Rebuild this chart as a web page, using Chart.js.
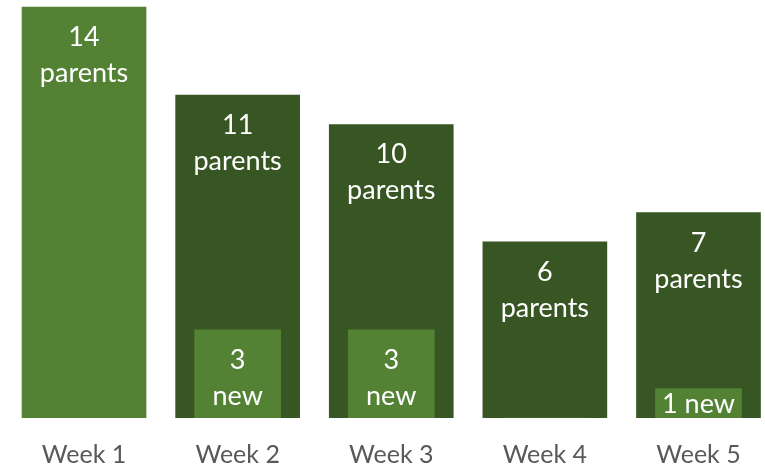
<!DOCTYPE html>
<html>
<head>
<meta charset="utf-8">
<script src="https://cdn.jsdelivr.net/npm/chart.js@4/dist/chart.umd.min.js"></script>
<style>
  html, body { margin: 0; padding: 0; background: #fff; }
</style>
</head>
<body>
<canvas id="myChart" width="765" height="470"></canvas>
<script>
const weeks = ['Week 1', 'Week 2', 'Week 3', 'Week 4', 'Week 5'];
const parents = [14, 11, 10, 6, 7];
const newParents = [0, 3, 3, 0, 1];

const light = '#548235';
const dark = '#375623';

// draws the white "N parents" / "N new" text inside each bar
const barText = {
  id: 'barText',
  afterDatasetsDraw(chart) {
    const c = chart.ctx;
    c.save();
    c.fillStyle = '#ffffff';
    c.textAlign = 'center';
    c.font = '27px Lato';
    chart.data.datasets.forEach((ds, di) => {
      const meta = chart.getDatasetMeta(di);
      meta.data.forEach((bar, i) => {
        const v = ds.data[i].y;
        if (!v) return;
        const h = bar.base - bar.y;
        if (h < 60) {
          c.textBaseline = 'middle';
          c.fillText(v + ' ' + ds.word, bar.x, (bar.y + bar.base) / 2 + 1);
        } else {
          c.textBaseline = 'alphabetic';
          c.fillText(String(v), bar.x, bar.y + 39);
          c.fillText(ds.word, bar.x, bar.y + 75);
        }
      });
    });
    c.restore();
  }
};

new Chart(document.getElementById('myChart'), {
  type: 'bar',
  data: {
    datasets: [{
      label: 'new',
      word: 'new',
      data: newParents.map((v, i) => ({ x: i, y: v })),
      backgroundColor: light,
      barThickness: 86,
      grouped: false,
      order: 0
    }, {
      label: 'parents',
      word: 'parents',
      data: parents.map((v, i) => ({ x: i, y: v })),
      backgroundColor: parents.map((v, i) => i === 0 ? light : dark),
      barThickness: 124,
      grouped: false,
      order: 1
    }]
  },
  plugins: [barText],
  options: {
    responsive: false,
    animation: false,
    // negative bottom padding pushes the week labels lower
    layout: { padding: { top: 0, left: 0, right: 0, bottom: -22 } },
    plugins: {
      legend: { display: false },
      tooltip: { enabled: false }
    },
    scales: {
      x: {
        type: 'linear',
        offset: false,
        min: -0.547,
        max: 4.433,
        grid: { display: false, drawTicks: false },
        border: { display: false },
        afterBuildTicks: (scale) => {
          scale.ticks = weeks.map((w, i) => ({ value: i }));
        },
        ticks: {
          padding: 22,
          maxRotation: 0,
          color: '#595959',
          font: { family: 'Lato', size: 25 },
          callback: (v) => weeks[v]
        }
      },
      y: {
        display: false,
        min: 0,
        max: 14.24
      }
    }
  }
});
</script>
</body>
</html>
